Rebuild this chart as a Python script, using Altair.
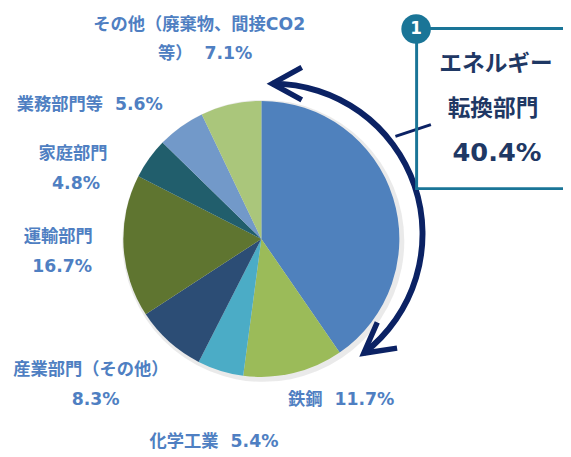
import math
import altair as alt
import pandas as pd

# ---- data ----
categories = ["エネルギー転換部門", "鉄鋼", "化学工業", "産業部門（その他）",
              "運輸部門", "家庭部門", "業務部門等", "その他（廃棄物、間接CO2等）"]
values = [40.4, 11.7, 5.4, 8.3, 16.7, 4.8, 5.6, 7.1]
colors = ["#4F81BD", "#9BBB59", "#4BACC6", "#2C4D75",
          "#5F7530", "#215E6C", "#7299C9", "#AAC67B"]

SP = "\u00a0\u00a0"
label_lines = ["その他（廃棄物、間接CO2", "等）" + SP + "7.1%", "業務部門等" + SP + "5.6%",
               "家庭部門", "4.8%", "運輸部門", "16.7%",
               "産業部門（その他）", "8.3%", "鉄鋼" + SP + "11.7%", "化学工業" + SP + "5.4%"]
callout_lines = ["エネルギー", "転換部門", "40.4%"]

# ---- layout (plot-area pixel positions) ----
W, H = 563, 449
DX = 4
label_pos = [(190, 14), (196, 44), (79, 95), (62, 145), (65, 175),
             (47, 229), (51, 260), (80, 364), (85, 394), (334, 394), (205, 437)]
callout_pos = [(491 + DX, 54), (488 + DX, 99), (492 + DX, 144)]
callout_size = [23, 23, 26]
PIE_X, PIE_Y, PIE_R = 253 + DX, 231, 140
ARC_X, ARC_Y, ARC_R = 264 + DX, 226, 152.5
ARC_T0, ARC_T1 = 0.0, 2.487
BOX_X = 410 + DX
NAVY = "#0B2264"
TEAL = "#1A7597"
LABEL = "#4F7FC2"
FONT = "DejaVu Sans, Noto Sans CJK JP"

pie_df = pd.DataFrame({"category": categories, "value": values,
                       "order": list(range(len(values)))})
lab_df = pd.DataFrame({"text": label_lines,
                       "px": [p[0] + DX for p in label_pos],
                       "py": [p[1] for p in label_pos]})
call_df = pd.DataFrame({"text": callout_lines,
                        "px": [p[0] for p in callout_pos],
                        "py": [p[1] for p in callout_pos],
                        "fs": callout_size})

xs = alt.Scale(domain=[0, W], range=[0, W], nice=False, zero=False)
ys = alt.Scale(domain=[0, H], range=[0, H], nice=False, zero=False)

shadow = alt.Chart(pie_df).mark_arc(outerRadius=PIE_R + 3, color="#a0a0a0",
                                    opacity=0.22).encode(
    theta=alt.Theta("sum(value):Q"),
    x=alt.value(PIE_X + 2), y=alt.value(PIE_Y + 2))

pie = alt.Chart(pie_df).mark_arc(outerRadius=PIE_R).encode(
    theta=alt.Theta("value:Q", stack=True),
    order=alt.Order("order:Q"),
    color=alt.Color("category:N", scale=alt.Scale(domain=categories, range=colors),
                    legend=None),
    x=alt.value(PIE_X), y=alt.value(PIE_Y))

arrow_arc = alt.Chart(pie_df.head(1)).mark_arc(
    theta=ARC_T0, theta2=ARC_T1, radius=ARC_R - 3, radius2=ARC_R + 3,
    color=NAVY).encode(x=alt.value(ARC_X), y=alt.value(ARC_Y))

chev = "M1,-0.55L0,0L1,0.55"

def chevron(theta, ang):
    cx = ARC_X + ARC_R * math.sin(theta)
    cy = ARC_Y - ARC_R * math.cos(theta)
    return alt.Chart(pie_df.head(1)).mark_point(
        shape=chev, size=3600, filled=False, strokeWidth=5.5, color=NAVY,
        opacity=1, angle=ang).encode(x=alt.value(cx), y=alt.value(cy))

top_head = chevron(ARC_T0, 0)
bot_head = chevron(ARC_T1, (math.degrees(ARC_T1) + 180) % 360)

def rule(x1, y1, x2, y2, color, w):
    return alt.Chart(pie_df.head(1)).mark_rule(color=color, strokeWidth=w).encode(
        x=alt.value(x1), y=alt.value(y1), x2=alt.value(x2), y2=alt.value(y2))

connector = rule(BOX_X + 15, 115, 389 + DX, 127, NAVY, 3)
box_top = rule(BOX_X, 17.5, W, 17.5, TEAL, 3)
box_left = rule(BOX_X + 0.5, 17, BOX_X + 0.5, 181, TEAL, 3)
box_bottom = rule(BOX_X - 1, 180, W, 180, TEAL, 3)

badge = alt.Chart(pie_df.head(1)).mark_point(
    shape="circle", size=900, filled=True, color=TEAL, opacity=1).encode(
    x=alt.value(BOX_X), y=alt.value(18))
badge_txt = alt.Chart(pie_df.head(1)).mark_text(
    text="1", color="white", fontSize=17, fontWeight="bold", font=FONT,
    baseline="middle", align="center").encode(x=alt.value(BOX_X), y=alt.value(18.5))

labels = alt.Chart(lab_df).mark_text(
    color=LABEL, fontSize=17.5, fontWeight="bold", font=FONT,
    align="center", baseline="middle").encode(
    x=alt.X("px:Q", scale=xs, axis=None),
    y=alt.Y("py:Q", scale=ys, axis=None),
    text="text:N")

callout = alt.Chart(call_df).mark_text(
    color="#1F3864", fontWeight="bold", font=FONT,
    align="center", baseline="middle").encode(
    x=alt.X("px:Q", scale=xs, axis=None),
    y=alt.Y("py:Q", scale=ys, axis=None),
    size=alt.Size("fs:Q", scale=None, legend=None),
    text="text:N")

chart = alt.layer(shadow, pie, arrow_arc, top_head, bot_head, connector,
                  box_top, box_left, box_bottom, badge, badge_txt,
                  labels, callout).properties(
    width=W, height=H, padding=0, autosize="none", background="white"
).configure_view(stroke=None)

chart.save("out.html", embed_options={"renderer": "svg", "actions": False})
